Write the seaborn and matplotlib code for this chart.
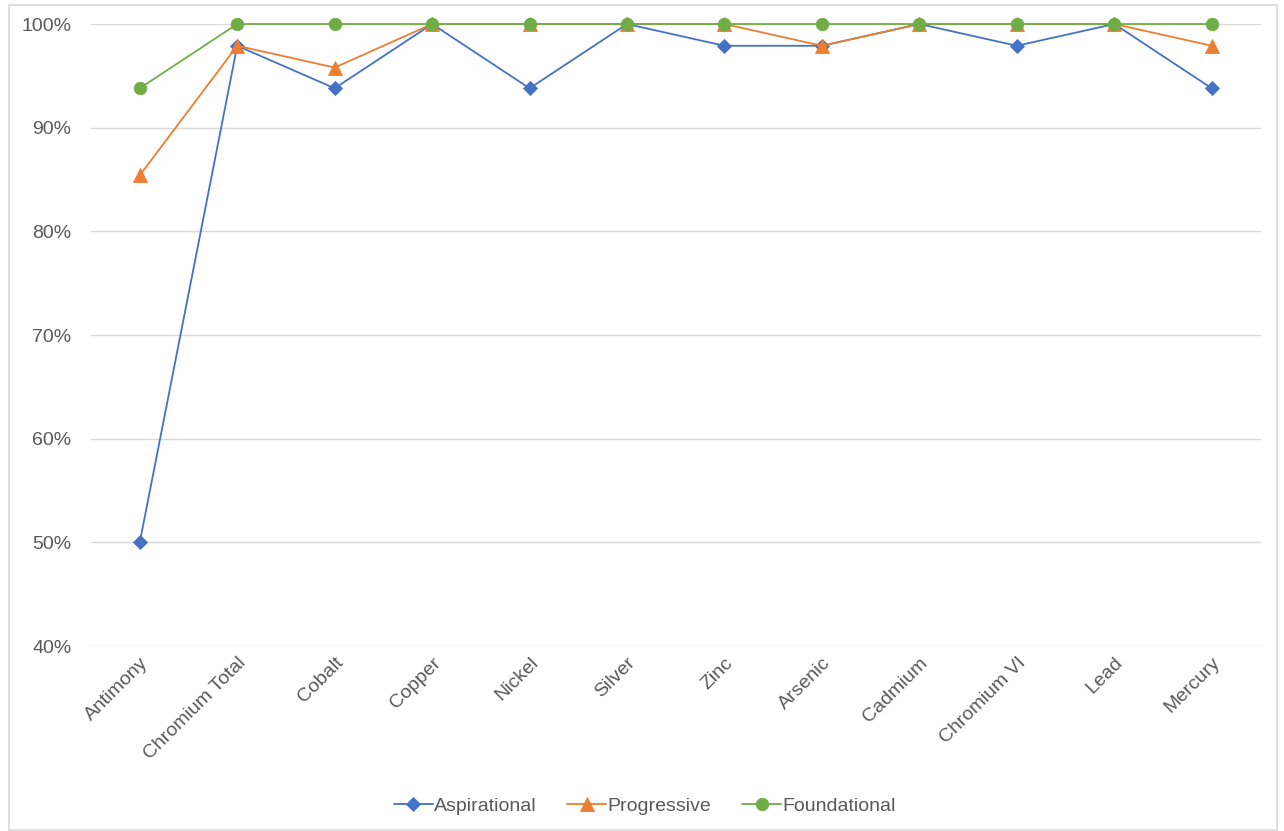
import pandas as pd
import matplotlib.pyplot as plt
import seaborn as sns
from matplotlib.patches import Rectangle
from matplotlib.ticker import PercentFormatter

# Chart data
metals = ["Antimony", "Chromium Total", "Cobalt", "Copper", "Nickel", "Silver",
          "Zinc", "Arsenic", "Cadmium", "Chromium VI", "Lead", "Mercury"]
aspirational = [50.0, 97.9, 93.8, 100, 93.8, 100, 97.9, 97.9, 100, 97.9, 100, 93.8]
progressive = [85.4, 97.9, 95.8, 100, 100, 100, 100, 97.9, 100, 100, 100, 97.9]
foundational = [93.8, 100, 100, 100, 100, 100, 100, 100, 100, 100, 100, 100]
levels = ["Aspirational", "Progressive", "Foundational"]
y_ticks = [40, 50, 60, 70, 80, 90, 100]

df = pd.DataFrame({
    "metal": metals * 3,
    "value": aspirational + progressive + foundational,
    "level": [levels[0]] * 12 + [levels[1]] * 12 + [levels[2]] * 12,
})

sns.set_style("white")
plt.rcParams["font.family"] = ["Liberation Sans", "DejaVu Sans"]

text_col = "#595959"
palette = {"Aspirational": "#4472C4", "Progressive": "#ED7D31", "Foundational": "#70AD47"}
markers = {"Aspirational": "D", "Progressive": "^", "Foundational": "o"}
msize = {"Aspirational": 7, "Progressive": 10, "Foundational": 9}

fig = plt.figure(figsize=(12.84, 8.31), dpi=100)
ax = fig.add_axes([0.0709, 0.2226, 0.9108, 0.7485])

for lvl in levels:
    sub = df[df["level"] == lvl]
    sns.lineplot(data=sub, x="metal", y="value", color=palette[lvl], marker=markers[lvl],
                 markersize=msize[lvl], markeredgewidth=0.6, markeredgecolor=palette[lvl],
                 linewidth=1.3, sort=False, label=lvl, ax=ax, clip_on=False)

ax.set_xlim(-0.5, len(metals) - 0.5)
ax.set_ylim(40, 100)
ax.set_yticks(y_ticks)
ax.yaxis.set_major_formatter(PercentFormatter(decimals=0))
ax.grid(axis="y", color="#D9D9D9", linewidth=1)
ax.set_axisbelow(True)
for s in ax.spines.values():
    s.set_visible(False)
ax.set_xlabel("")
ax.set_ylabel("")
ax.tick_params(axis="both", length=0, labelsize=14, colors=text_col)
ax.tick_params(axis="y", pad=14)
ax.tick_params(axis="x", pad=6)
plt.setp(ax.get_xticklabels(), rotation=45, ha="right", rotation_mode="anchor")

ax.legend(loc="center", bbox_to_anchor=(0.502, 0.030), bbox_transform=fig.transFigure,
          ncol=3, frameon=False, fontsize=14, handlelength=2.0, handletextpad=0.05,
          columnspacing=1.6, labelcolor=text_col)

fig.patches.append(Rectangle((9 / 1284, 1 / 831), 1268 / 1284, 825 / 831,
                             transform=fig.transFigure, fill=False,
                             edgecolor="#D9D9D9", linewidth=1.2))

fig.savefig("out.png", dpi=100)
